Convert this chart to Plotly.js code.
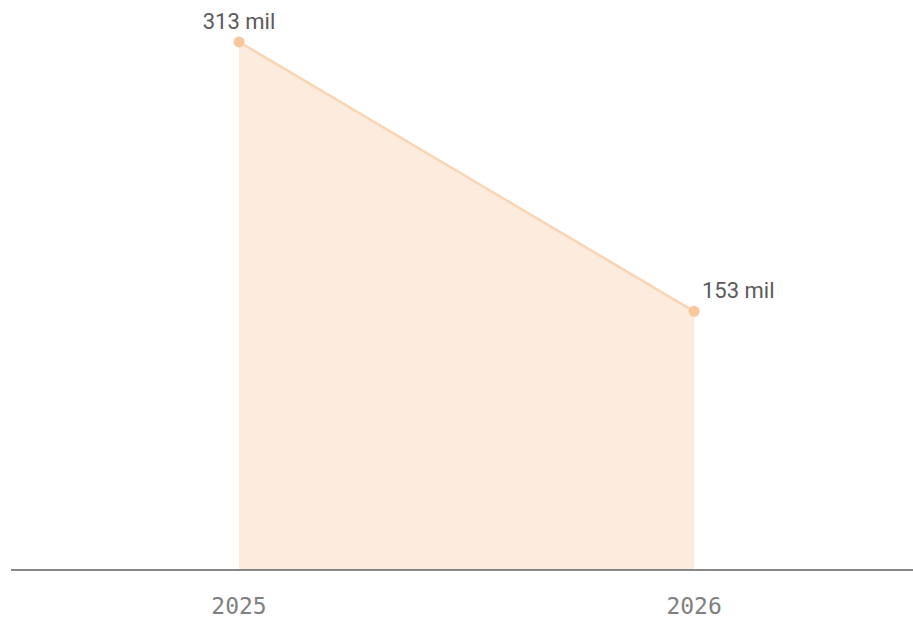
<!DOCTYPE html>
<html>
<head>
<meta charset="utf-8">
<script src="https://cdn.plot.ly/plotly-3.0.1.min.js"></script>
<style>
  html, body { margin: 0; padding: 0; background: #fff; }
  #chart { width: 913px; height: 624px; }
</style>
</head>
<body>
<div id="chart"></div>
<script>
const years = [2025, 2026];
const values = [313, 153];
const labels = ["313 mil", "153 mil"];

const area = {
  x: years,
  y: values,
  type: "scatter",
  mode: "lines+markers+text",
  fill: "tozeroy",
  fillcolor: "rgba(249, 200, 160, 0.35)",
  line: { color: "#fbd4b2", width: 2.5 },
  marker: { color: "#fac79a", size: 11 },
  text: labels,
  textposition: ["top center", "top right"],
  textfont: { family: "Roboto, sans-serif", size: 22, color: "#5a5a5a" },
  hoverinfo: "none",
  cliponaxis: false
};

const layout = {
  width: 913,
  height: 624,
  margin: { l: 11, r: 0, t: 0, b: 55 },
  paper_bgcolor: "#ffffff",
  plot_bgcolor: "#ffffff",
  showlegend: false,
  xaxis: {
    range: [2024.499, 2026.481],
    tickvals: years,
    ticktext: years.map(String),
    showgrid: false,
    zeroline: false,
    showline: true,
    linecolor: "#888888",
    linewidth: 2,
    ticks: "",
    ticklabelstandoff: 15,
    tickfont: { family: "DejaVu Sans Mono, monospace", size: 23, color: "#808080" }
  },
  yaxis: {
    range: [0, 337.9],
    showgrid: false,
    zeroline: false,
    showline: false,
    showticklabels: false,
    ticks: ""
  }
};

Plotly.newPlot("chart", [area], layout, { displayModeBar: false, staticPlot: true });
</script>
</body>
</html>
